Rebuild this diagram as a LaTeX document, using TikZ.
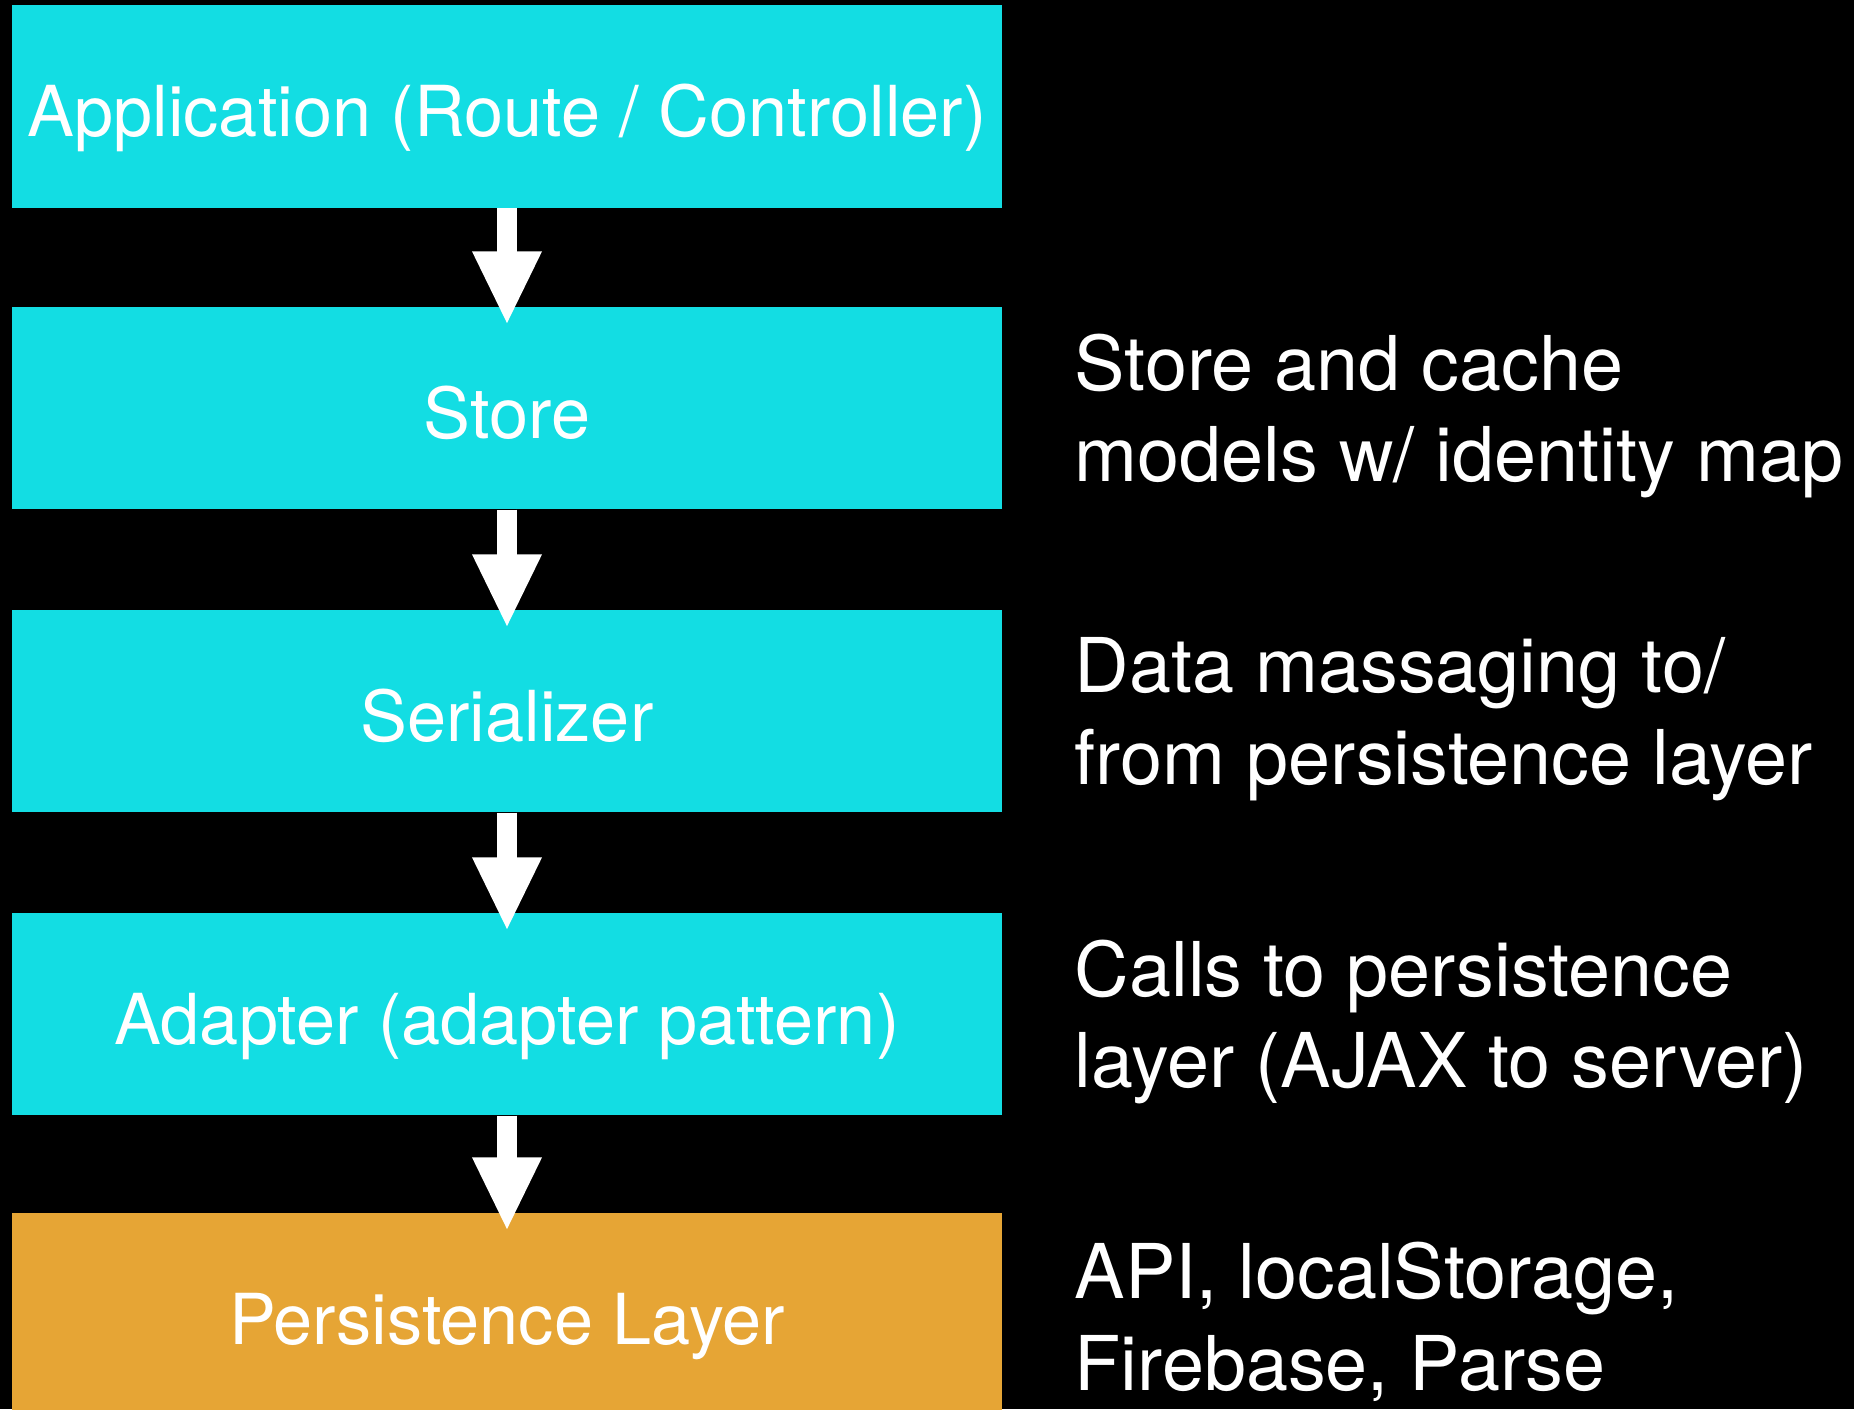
\documentclass[tikz,border=0pt]{standalone}
\usepackage{fontspec}
\setmainfont{TeX Gyre Heros}
\usepackage{tikz}
\usetikzlibrary{arrows.meta}
\definecolor{layercyan}{RGB}{19,221,227}
\definecolor{layerorange}{RGB}{230,165,53}

\begin{document}
\begin{tikzpicture}
[layer/.style={rectangle,fill=layercyan,text=white,inner sep=0pt,minimum width=9.9cm,minimum height=2.02cm,text height=0.605cm,text depth=0pt,font=\fontsize{20}{24}\selectfont},
note/.style={anchor=west,align=left,text=white,inner sep=0pt,font=\fontsize{21.5}{26}\selectfont},
flow/.style={white,line width=0.2cm,-{Triangle[length=0.74cm,width=0.64cm]}}]
\fill[black] (0,0) rectangle (18.54,-14.09);
\useasboundingbox (0,0) rectangle (18.54,-14.09);

\node[layer] (app) at (5.07,-1.065) {Application (Route / Controller)};
\node[layer] (store) at (5.07,-4.08) {Store};
\node[layer] (ser) at (5.07,-7.11) {Serializer};
\node[layer] (adp) at (5.07,-10.14) {Adapter (adapter pattern)};
\node[layer,fill=layerorange] (pers) at (5.07,-13.14) {Persistence Layer};

\node[note] (storenote) at (10.74,-4.16) {Store and cache\\models w/ identity map};
\node[note] (sernote) at (10.74,-7.19) {Data massaging to/\\from persistence layer};
\node[note] (adpnote) at (10.74,-10.22) {Calls to persistence\\layer (AJAX to server)};
\node[note] (persnote) at (10.74,-13.22) {API, localStorage,\\Firebase, Parse};

\draw [flow] (app.south) -- ([yshift=-0.19cm]store.north);
\draw [flow] (store.south) -- ([yshift=-0.19cm]ser.north);
\draw [flow] (ser.south) -- ([yshift=-0.19cm]adp.north);
\draw [flow] (adp.south) -- ([yshift=-0.19cm]pers.north);
\end{tikzpicture}
\end{document}
